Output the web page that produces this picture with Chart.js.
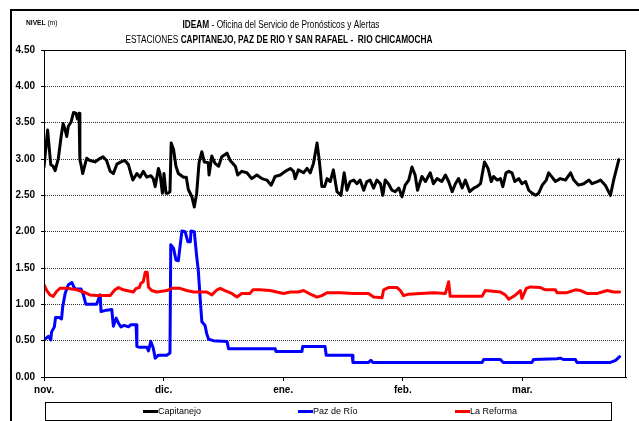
<!DOCTYPE html>
<html>
<head>
<meta charset="utf-8">
<script src="https://cdn.jsdelivr.net/npm/chart.js@4"></script>
<style>
  body { margin: 0; background: #fff; }
</style>
</head>
<body>
<canvas id="grafico" width="639" height="421"></canvas>
<script>
// meses del eje x (dias desde el 1 de noviembre)
const mesesDia = [0, 30, 60, 90, 120];
const mesesNombre = ['nov.', 'dic.', 'ene.', 'feb.', 'mar.'];
const nivelTicks = [0, 0.5, 1, 1.5, 2, 2.5, 3, 3.5, 4, 4.5];

// Capitanejo
const capDias = [0.0, 0.9, 1.7, 2.3, 2.8, 3.6, 4.3, 4.8, 5.3, 5.7, 6.1, 6.8, 7.4, 8.0, 8.4, 8.8, 9.0, 9.3, 9.7, 10.7,
  11.5, 12.8, 14.1, 14.8, 15.7, 16.6, 17.4, 18.3, 19.3, 20.3, 21.2, 21.8, 22.3, 23.3, 24.1, 24.9, 25.8, 26.8, 27.4, 27.9,
  28.7, 29.1, 29.7, 30.1, 30.6, 31.1, 31.6, 31.9, 32.5, 33.1, 33.7, 35.0, 35.7, 36.2, 37.1, 37.7, 38.3, 38.9, 39.6, 40.2,
  41.2, 41.4, 42.1, 42.9, 43.8, 44.6, 45.9, 46.7, 48.0, 48.6, 49.6, 50.9, 52.1, 53.4, 54.7, 55.9, 57.0, 58.0, 59.3, 60.5,
  61.8, 62.6, 63.0, 63.8, 65.1, 66.0, 66.8, 67.6, 68.5, 69.1, 69.7, 70.4, 71.0, 71.8, 72.6, 73.5, 74.5, 75.3, 76.0, 76.8,
  77.7, 78.5, 79.3, 80.2, 81.0, 81.8, 82.7, 83.5, 84.4, 85.0, 85.6, 86.4, 87.3, 88.1, 89.0, 89.8, 90.6, 91.5, 92.3, 93.1,
  93.7, 94.8, 95.7, 96.9, 97.7, 98.6, 99.8, 100.7, 101.5, 102.4, 103.2, 104.0, 104.9, 105.7, 106.8, 107.8, 108.6, 109.5, 110.5, 111.4,
  112.2, 112.8, 113.7, 114.5, 115.1, 115.9, 116.6, 117.4, 118.1, 119.1, 119.9, 120.8, 121.6, 122.4, 123.3, 124.1, 125.0, 126.0, 126.6, 127.3,
  128.3, 129.5, 130.8, 132.1, 132.9, 134.1, 135.4, 136.7, 137.5, 138.8, 139.6, 140.8, 142.1, 142.9, 144.2];
const capNivel = [2.89, 3.40, 2.92, 2.90, 2.84, 3.01, 3.31, 3.49, 3.40, 3.31, 3.45, 3.51, 3.64, 3.63, 3.55, 3.63, 2.99, 2.92, 2.80, 3.01,
  2.98, 2.96, 3.01, 3.03, 2.98, 2.83, 2.80, 2.93, 2.96, 2.98, 2.92, 2.80, 2.71, 2.80, 2.75, 2.83, 2.75, 2.77, 2.73, 2.62,
  2.87, 2.80, 2.53, 2.80, 2.53, 2.53, 2.55, 3.22, 3.13, 2.90, 2.80, 2.75, 2.75, 2.58, 2.48, 2.34, 2.53, 2.95, 3.10, 2.96,
  2.95, 2.78, 3.04, 2.94, 2.90, 3.03, 3.08, 2.98, 2.90, 2.78, 2.83, 2.81, 2.73, 2.78, 2.73, 2.71, 2.64, 2.76, 2.78, 2.83,
  2.87, 2.83, 2.73, 2.85, 2.81, 2.87, 2.81, 2.94, 3.22, 2.96, 2.62, 2.62, 2.73, 2.69, 2.85, 2.55, 2.50, 2.81, 2.57, 2.69,
  2.71, 2.66, 2.71, 2.57, 2.69, 2.71, 2.60, 2.71, 2.66, 2.50, 2.71, 2.66, 2.57, 2.55, 2.60, 2.48, 2.64, 2.71, 2.89, 2.78,
  2.57, 2.76, 2.69, 2.81, 2.66, 2.73, 2.69, 2.78, 2.69, 2.55, 2.66, 2.73, 2.60, 2.71, 2.55, 2.60, 2.62, 2.66, 2.96, 2.87,
  2.69, 2.76, 2.71, 2.73, 2.62, 2.81, 2.83, 2.81, 2.69, 2.73, 2.66, 2.69, 2.57, 2.53, 2.50, 2.53, 2.64, 2.71, 2.81, 2.76,
  2.69, 2.73, 2.71, 2.81, 2.71, 2.64, 2.66, 2.71, 2.66, 2.69, 2.71, 2.64, 2.50, 2.71, 2.99];

// Paz de Río
const pazDias = [0.0, 1.1, 1.7, 1.9, 2.6, 2.9, 3.8, 4.4, 4.7, 5.3, 6.1, 7.0, 7.4, 7.8, 9.3, 9.9, 10.5, 13.2, 14.1, 14.3,
  15.7, 17.0, 17.4, 18.1, 18.7, 19.3, 20.1, 21.2, 21.8, 23.1, 23.3, 24.1, 25.8, 26.2, 26.8, 27.4, 27.9, 28.7, 30.8, 31.6,
  31.8, 32.5, 33.1, 33.7, 34.6, 35.4, 36.1, 36.7, 36.9, 37.7, 38.3, 38.7, 39.2, 39.6, 40.4, 40.8, 41.3, 42.5, 45.9, 46.3,
  58.0, 58.2, 64.7, 64.9, 70.5, 70.8, 77.3, 77.5, 81.4, 82.0, 82.5, 109.9, 110.3, 114.5, 115.2, 122.4, 122.8, 128.7, 129.5, 130.4,
  133.3, 133.7, 142.1, 143.4, 144.4];
const pazNivel = [0.51, 0.56, 0.51, 0.62, 0.69, 0.82, 0.82, 0.80, 0.97, 1.15, 1.27, 1.30, 1.25, 1.21, 1.21, 1.13, 1.00, 1.00, 1.13, 0.90,
  0.92, 0.93, 0.70, 0.81, 0.74, 0.69, 0.71, 0.69, 0.72, 0.72, 0.42, 0.41, 0.41, 0.36, 0.49, 0.40, 0.26, 0.30, 0.30, 0.33,
  1.82, 1.77, 1.61, 1.60, 2.01, 2.00, 1.86, 1.86, 2.01, 2.00, 1.66, 1.47, 1.06, 0.76, 0.71, 0.60, 0.52, 0.50, 0.49, 0.39,
  0.39, 0.35, 0.35, 0.42, 0.42, 0.30, 0.30, 0.20, 0.20, 0.23, 0.20, 0.20, 0.24, 0.24, 0.20, 0.20, 0.24, 0.25, 0.26, 0.24,
  0.24, 0.20, 0.20, 0.23, 0.28];

// La Reforma
const refDias = [0.0, 0.7, 1.5, 2.3, 3.2, 4.0, 5.7, 7.0, 8.2, 9.9, 11.5, 13.2, 16.6, 17.8, 18.7, 19.9, 22.4, 23.1, 23.9, 24.3,
  24.9, 25.4, 25.9, 26.2, 27.0, 28.3, 30.8, 32.1, 34.1, 35.8, 37.5, 40.8, 42.1, 43.4, 44.2, 45.4, 47.1, 48.4, 49.6, 51.7,
  52.4, 54.2, 56.7, 58.4, 60.1, 61.8, 63.8, 65.1, 66.8, 68.5, 69.7, 71.0, 74.3, 77.7, 81.4, 82.7, 84.8, 85.2, 86.4, 88.6,
  89.4, 90.2, 91.5, 94.4, 97.7, 100.7, 101.5, 101.9, 105.3, 109.9, 110.7, 114.5, 115.7, 116.6, 118.3, 119.5, 119.9, 121.0, 122.0, 124.5,
  125.8, 128.3, 128.7, 131.2, 133.3, 134.6, 136.2, 138.8, 140.0, 141.3, 142.9, 144.4];
const refNivel = [1.27, 1.19, 1.13, 1.11, 1.18, 1.22, 1.22, 1.21, 1.20, 1.17, 1.13, 1.12, 1.12, 1.20, 1.23, 1.20, 1.17, 1.22, 1.23, 1.29,
  1.31, 1.44, 1.44, 1.24, 1.19, 1.17, 1.19, 1.22, 1.22, 1.19, 1.17, 1.17, 1.13, 1.20, 1.22, 1.19, 1.15, 1.10, 1.15, 1.15,
  1.20, 1.20, 1.19, 1.17, 1.15, 1.17, 1.17, 1.19, 1.14, 1.10, 1.12, 1.16, 1.16, 1.15, 1.15, 1.10, 1.09, 1.20, 1.23, 1.23,
  1.19, 1.12, 1.14, 1.15, 1.16, 1.15, 1.31, 1.11, 1.11, 1.11, 1.19, 1.17, 1.13, 1.07, 1.13, 1.19, 1.08, 1.22, 1.24, 1.23,
  1.20, 1.20, 1.16, 1.16, 1.20, 1.19, 1.15, 1.15, 1.17, 1.19, 1.17, 1.17];

const series = [
  { nombre: 'Capitanejo', color: '#000000', dias: capDias, nivel: capNivel },
  { nombre: 'Paz de Río', color: '#0000FF', dias: pazDias, nivel: pazNivel },
  { nombre: 'La Reforma', color: '#FF0000', dias: refDias, nivel: refNivel }
];

const FUENTE = "'Liberation Sans', Arial, sans-serif";
const ANGOSTO = 0.83; // simula Arial Narrow

function puntos(dias, nivel) {
  return dias.map((d, i) => ({ x: d, y: nivel[i] }));
}

// escribe texto con partes en negrita / normal, comprimido en horizontal
function textoMixto(ctx, partes, x, y, centrado) {
  let total = 0;
  partes.forEach(p => { ctx.font = p.f; p.w = ctx.measureText(p.t).width * ANGOSTO; total += p.w; });
  let xx = centrado ? x - total / 2 : x;
  partes.forEach(p => {
    ctx.save();
    ctx.font = p.f;
    ctx.translate(xx, y);
    ctx.scale(ANGOSTO, 1);
    ctx.fillText(p.t, 0, 0);
    ctx.restore();
    xx += p.w;
  });
}

const decoracion = {
  id: 'decoracion',
  afterDraw(chart) {
    const ctx = chart.ctx;
    const a = chart.chartArea;
    ctx.save();
    // marco del area de trazado
    ctx.strokeStyle = '#000';
    ctx.lineWidth = 1;
    ctx.strokeRect(a.left + 0.5, a.top + 0.5, a.right - a.left - 1, a.bottom - a.top);
    // marco exterior
    ctx.lineWidth = 2;
    ctx.beginPath();
    ctx.moveTo(11, 421);
    ctx.lineTo(11, 10);
    ctx.lineTo(639, 10);
    ctx.stroke();

    // titulos
    ctx.fillStyle = '#000';
    ctx.textBaseline = 'middle';
    ctx.textAlign = 'left';
    textoMixto(ctx, [
      { t: 'IDEAM', f: 'bold 10px ' + FUENTE },
      { t: ' - Oficina del Servicio de Pronósticos y Alertas', f: '10px ' + FUENTE }
    ], 281, 25, true);
    textoMixto(ctx, [
      { t: 'ESTACIONES ', f: '10px ' + FUENTE },
      { t: 'CAPITANEJO, PAZ DE RIO Y SAN RAFAEL -  RIO CHICAMOCHA', f: 'bold 10px ' + FUENTE }
    ], 279, 40, true);
    textoMixto(ctx, [
      { t: 'NIVEL', f: 'bold 8px ' + FUENTE },
      { t: ' (m)', f: '8px ' + FUENTE }
    ], 26, 23, false);

    // leyenda
    ctx.lineWidth = 1;
    ctx.strokeStyle = '#000';
    ctx.strokeRect(45.5, 402.5, 566, 18);
    const posiciones = [143, 298, 455];
    series.forEach((s, i) => {
      ctx.strokeStyle = s.color;
      ctx.lineWidth = 3;
      ctx.beginPath();
      ctx.moveTo(posiciones[i], 411.5);
      ctx.lineTo(posiciones[i] + 15, 411.5);
      ctx.stroke();
      ctx.font = '9px ' + FUENTE;
      ctx.fillStyle = '#000';
      ctx.fillText(s.nombre, posiciones[i] + 15, 412);
    });
    ctx.restore();
  }
};

new Chart(document.getElementById('grafico'), {
  type: 'line',
  data: {
    datasets: series.map((s, i) => ({
      label: s.nombre,
      data: puntos(s.dias, s.nivel),
      borderColor: s.color,
      backgroundColor: s.color,
      borderWidth: 3,
      pointRadius: 0,
      tension: 0,
      borderJoinStyle: 'round',
      borderCapStyle: 'round',
      order: 3 - i
    }))
  },
  options: {
    responsive: false,
    animation: false,
    layout: { padding: { left: 0, top: 50, right: 13, bottom: 0 } },
    plugins: {
      legend: { display: false },
      title: { display: false },
      tooltip: { enabled: false }
    },
    scales: {
      x: {
        type: 'linear',
        min: 0,
        max: 146,
        afterBuildTicks: s => { s.ticks = mesesDia.map(v => ({ value: v })); },
        afterFit: s => { s.height = 44; },
        ticks: {
          callback: v => mesesNombre[mesesDia.indexOf(v)],
          color: '#000',
          font: { family: FUENTE, size: 10, weight: 'bold' },
          maxRotation: 0,
          autoSkip: false,
          padding: 3
        },
        grid: { drawOnChartArea: false, tickLength: 4, color: '#000' },
        border: { color: '#000', width: 1 }
      },
      y: {
        min: 0,
        max: 4.5,
        afterBuildTicks: s => { s.ticks = nivelTicks.map(v => ({ value: v })); },
        afterFit: s => { s.width = 44; },
        ticks: {
          callback: v => v.toFixed(2),
          color: '#000',
          font: { family: FUENTE, size: 10, weight: 'bold' },
          padding: 6
        },
        grid: { color: '#333', lineWidth: 1, tickLength: 3, tickColor: '#000' },
        border: { color: '#000', width: 1, dash: [1, 1] }
      }
    }
  },
  plugins: [decoracion]
});
</script>
</body>
</html>
